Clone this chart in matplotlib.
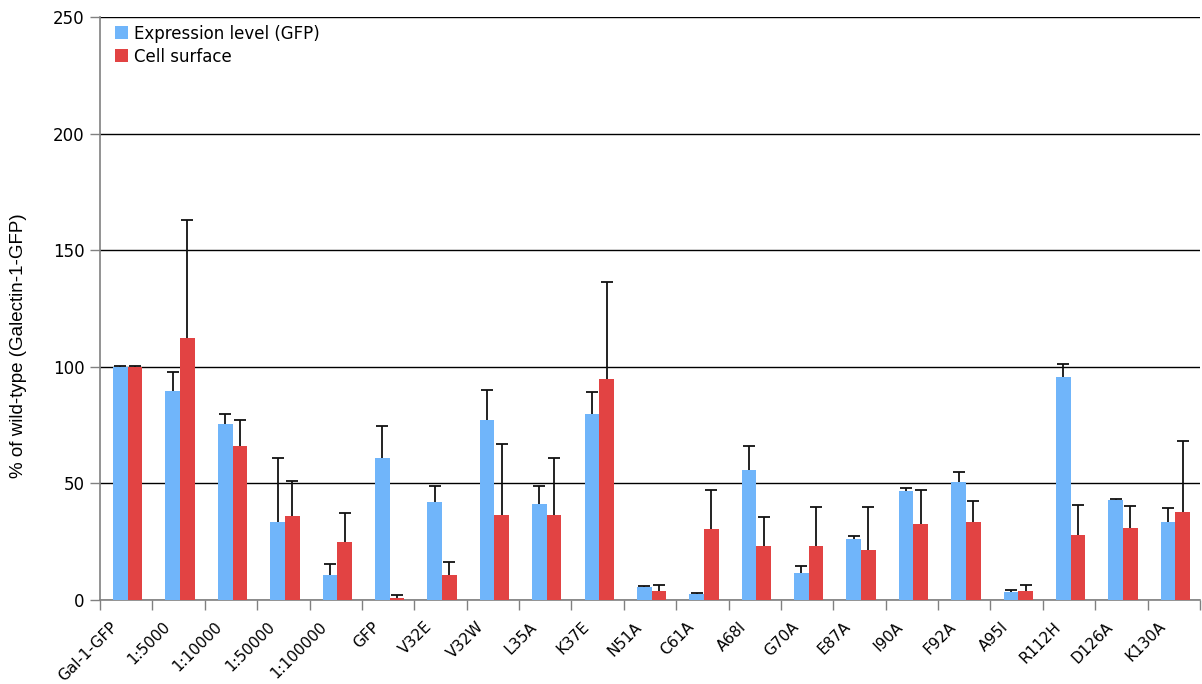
import numpy as np
import matplotlib
matplotlib.use("Agg")
import matplotlib.pyplot as plt
from matplotlib.transforms import ScaledTranslation

categories = ["Gal-1-GFP", "1:5000", "1:10000", "1:50000", "1:100000", "GFP",
              "V32E", "V32W", "L35A", "K37E", "N51A", "C61A", "A68I", "G70A",
              "E87A", "I90A", "F92A", "A95I", "R112H", "D126A", "K130A"]

expression = [100.0, 89.6, 75.5, 33.4, 10.6, 61.0, 42.0, 77.0, 41.2, 79.9, 5.6,
              2.6, 55.6, 11.7, 26.0, 46.6, 50.6, 3.4, 95.6, 42.9, 33.3]
expression_err = [0.3, 8.0, 4.3, 27.6, 4.8, 13.8, 7.0, 13.2, 7.8, 9.4, 0.5,
                  0.4, 10.3, 3.0, 1.3, 1.6, 4.1, 0.8, 5.6, 0.4, 6.3]

surface = [100.0, 112.2, 65.9, 36.0, 24.7, 1.0, 10.6, 36.3, 36.3, 94.8, 3.7,
           30.3, 23.2, 23.2, 21.3, 32.5, 33.4, 3.7, 27.7, 31.0, 37.7]
surface_err = [0.3, 50.8, 11.3, 15.0, 12.6, 1.0, 5.6, 30.5, 24.7, 41.6, 2.7,
               16.7, 12.4, 16.7, 18.6, 14.5, 9.1, 2.7, 13.2, 9.4, 30.6]

blue = "#70B5FA"
red = "#E24343"
axis_grey = "#808080"

fig = plt.figure(figsize=(12.02, 6.84), dpi=100)
ax = fig.add_axes([100 / 1202, 84 / 684, 1100 / 1202, 583 / 684])

x = np.arange(len(categories))
w = 0.28
err_kw = dict(ecolor="#111111", elinewidth=1.3, capsize=4.5, capthick=1.3)
zeros = np.zeros(len(x))
bars_exp = ax.bar(x - w / 2 + 0.03, expression, w, color=blue,
                  label="Expression level (GFP)",
                  yerr=[zeros, expression_err], error_kw=err_kw, zorder=3)
bars_surf = ax.bar(x + w / 2 + 0.03, surface, w, color=red, label="Cell surface",
                   yerr=[zeros, surface_err], error_kw=err_kw, zorder=3)

# error bars are one-sided: keep only the upper caps
for cont in (bars_exp, bars_surf):
    caps = cont.errorbar.lines[1]
    caps[0].set_visible(False)

ax.set_xlim(-0.5, len(categories) - 0.5)
ax.set_ylim(0, 250)
ax.set_yticks([0, 50, 100, 150, 200, 250])
ax.yaxis.grid(True, color="black", linewidth=1.0, zorder=0)
ax.set_axisbelow(True)

for side in ("top", "right"):
    ax.spines[side].set_visible(False)
for side in ("left", "bottom"):
    ax.spines[side].set_color(axis_grey)
    ax.spines[side].set_linewidth(1.2)

ax.tick_params(axis="y", direction="out", length=7, width=1, color=axis_grey,
               labelsize=12, pad=4)

# category boundaries carry the tick marks; labels sit at centres without marks
ax.set_xticks(x)
ax.set_xticks(np.arange(len(categories) + 1) - 0.5, minor=True)
ax.tick_params(axis="x", which="major", length=0, pad=6)
ax.tick_params(axis="x", which="minor", direction="out", length=7, width=1,
               color=axis_grey)
ax.set_xticklabels(categories, rotation=45, ha="right", va="center",
                   rotation_mode="anchor", fontsize=11)
shift = ScaledTranslation(-11 / 100, -16 / 100, fig.dpi_scale_trans)
for lab in ax.get_xticklabels():
    lab.set_transform(lab.get_transform() + shift)

ax.set_ylabel("% of wild-type (Galectin-1-GFP)", fontsize=13.5,
              family=["Liberation Sans", "DejaVu Sans"])
ax.yaxis.set_label_coords(-0.066, 0.437)

ax.legend(loc="upper left", bbox_to_anchor=(0.0027, 1.007), frameon=False,
          fontsize=12, handlelength=0.8, handleheight=0.8, handletextpad=0.35,
          labelspacing=0.3, borderaxespad=0.3)

fig.savefig("out.png", dpi=100)
